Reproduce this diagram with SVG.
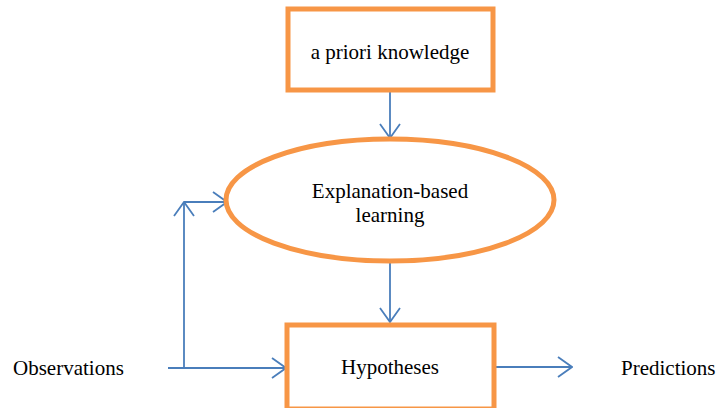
<svg xmlns="http://www.w3.org/2000/svg" width="718" height="408" viewBox="0 0 718 408">
<defs>
<style>
.node{fill:#fff;stroke:#F79646;stroke-width:5}
.t{font-family:"Liberation Serif","Times New Roman",serif;font-size:21px;fill:#000}
.c{text-anchor:middle}
.e{fill:none;stroke:#4A7EBB;stroke-width:1.8}
</style>
<marker id="a" viewBox="0 0 16 22" refX="15" refY="11" markerWidth="16" markerHeight="22" markerUnits="userSpaceOnUse" orient="auto">
<path d="M1,1 L15,11 L1,21" fill="none" stroke="#4A7EBB" stroke-width="1.8"/>
</marker>
</defs>
<rect width="718" height="408" fill="#fff"/>
<g id="connectors">
<line class="e" x1="390" y1="92" x2="390" y2="138" marker-end="url(#a)"/>
<line class="e" x1="390" y1="262" x2="390" y2="322" marker-end="url(#a)"/>
<line class="e" x1="168" y1="368" x2="286" y2="368" marker-end="url(#a)"/>
<line class="e" x1="184" y1="368" x2="184" y2="202" marker-end="url(#a)"/>
<line class="e" x1="184" y1="202" x2="227" y2="202" marker-end="url(#a)"/>
<line class="e" x1="494" y1="367" x2="572" y2="367" marker-end="url(#a)"/>
</g>
<g id="apriori">
<rect class="node" x="288" y="9" width="205" height="81"/>
<text class="t c" x="390" y="59">a priori knowledge</text>
</g>
<g id="ebl">
<ellipse class="node" cx="390" cy="200" rx="164" ry="61"/>
<text class="t c" x="390" y="198">Explanation-based</text>
<text class="t c" x="390" y="222">learning</text>
</g>
<g id="hypotheses">
<rect class="node" x="287" y="325" width="207" height="84"/>
<text class="t c" x="390" y="374">Hypotheses</text>
</g>
<g id="observations">
<text class="t" x="13" y="375">Observations</text>
</g>
<g id="predictions">
<text class="t" x="621" y="375">Predictions</text>
</g>
</svg>
